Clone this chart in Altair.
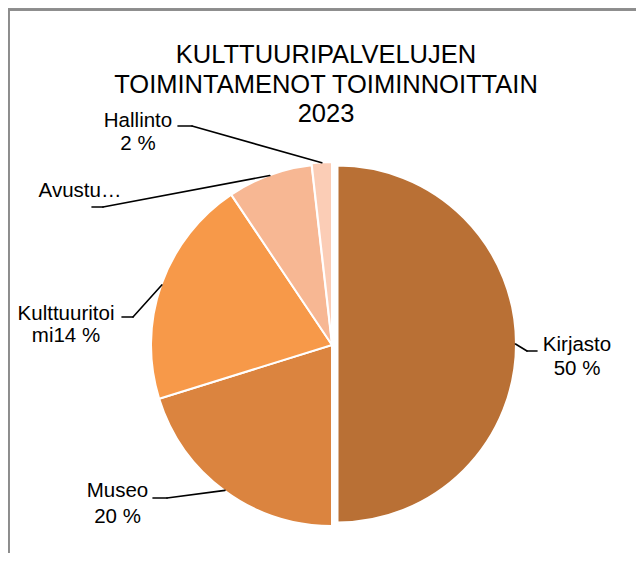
import math
import altair as alt
import pandas as pd

# ---- data ----
categories = ["Kirjasto", "Museo", "Kulttuuritoiminta", "Avustukset", "Hallinto"]
values = [50.0, 20.2, 20.4, 7.6, 1.8]
label_texts = ["Kirjasto\n50 %", "Museo\n20 %", "Kulttuuritoi\nmi14 %", "Avustu…", "Hallinto\n2 %"]
colors = ["#B97035", "#DB843F", "#F79949", "#F7B793", "#FBCDB6"]
title_text = "KULTTUURIPALVELUJEN\nTOIMINTAMENOT TOIMINNOITTAIN\n2023"

df = pd.DataFrame({
    "cat": categories,
    "value": values,
    "label": label_texts,
    "order": list(range(len(categories))),
})

# ---- layout (pixels, chart coordinates) ----
W, H = 628, 545
CX, CY, R = 324, 337, 181
# explode offsets: dx, dy, outer radius
explode = {"Kirjasto": (5.5, -1, 178.5), "Hallinto": (0, -2, 181)}
# label anchor (x, baseline y, lineHeight)
label_pos = {
    "Kirjasto": (569, 342.5, 24.5),
    "Museo": (109.5, 489, 26),
    "Kulttuuritoiminta": (58, 312, 22),
    "Avustukset": (72, 189, 22),
    "Hallinto": (130, 119, 23),
}
# leader lines: horizontal start x, elbow x, elbow y
leader = {
    "Kirjasto": (529, 519, 343),
    "Museo": (145, 159, 490),
    "Kulttuuritoiminta": (114, 125, 309),
    "Avustukset": (84, 95, 199),
    "Hallinto": (170, 184, 118),
}

FONT = "Liberation Sans"

base = (
    alt.Chart(df)
    .transform_joinaggregate(total="sum(value)")
    .transform_window(cum="sum(value)", sort=[alt.SortField("order")], frame=[None, 0])
    .transform_calculate(
        f0="(datum.cum - datum.value) / datum.total",
        f1="datum.cum / datum.total",
        ang="(datum.cum - datum.value / 2) / datum.total * 2 * PI",
    )
)

color_scale = alt.Scale(domain=categories, range=colors)
theta_scale = alt.Scale(domain=[0, 1], range=[0, 2 * math.pi])

layers = []

# border (top + left)
layers.append(
    alt.Chart(df).mark_rule(color="#8C8C8C", strokeWidth=2).encode(
        x=alt.value(0), x2=alt.value(W), y=alt.value(1.5)
    )
)
layers.append(
    alt.Chart(df).mark_rule(color="#8C8C8C", strokeWidth=1.5).encode(
        x=alt.value(0.75), y=alt.value(1.5), y2=alt.value(H)
    )
)

# slices
for c in categories:
    dx, dy, r = explode.get(c, (0, 0, R))
    layers.append(
        base.transform_filter(alt.datum.cat == c)
        .mark_arc(outerRadius=r, stroke="white", strokeWidth=2)
        .encode(
            theta=alt.Theta("f0:Q", scale=theta_scale),
            theta2=alt.Theta2("f1:Q"),
            color=alt.Color("cat:N", scale=color_scale, legend=None),
            x=alt.value(CX + dx),
            y=alt.value(CY + dy),
        )
    )

# leader lines
for c in categories:
    dx, dy, r = explode.get(c, (0, 0, R))
    rr = r - 0.5
    hx, ex, ey = leader[c]
    layers.append(
        base.transform_filter(alt.datum.cat == c)
        .transform_calculate(
            px=f"{CX + dx} + {rr} * sin(datum.ang)",
            py=f"{CY + dy} - {rr} * cos(datum.ang)",
        )
        .mark_rule(color="black", strokeWidth=1.6, strokeCap="round")
        .encode(
            x=alt.X("px:Q", scale=None, axis=None),
            y=alt.Y("py:Q", scale=None, axis=None),
            x2=alt.value(ex),
            y2=alt.value(ey),
        )
    )
    layers.append(
        alt.Chart(df).transform_filter(alt.datum.cat == c)
        .mark_rule(color="black", strokeWidth=1.6, strokeCap="round")
        .encode(x=alt.value(hx), x2=alt.value(ex), y=alt.value(ey))
    )

# labels
for c in categories:
    lx, ly, lh = label_pos[c]
    layers.append(
        alt.Chart(df).transform_filter(alt.datum.cat == c)
        .mark_text(font=FONT, fontSize=20.5, color="#000000", align="center",
                   baseline="alphabetic", lineBreak="\n", lineHeight=lh)
        .encode(text="label:N", x=alt.value(lx), y=alt.value(ly))
    )

# title
layers.append(
    alt.Chart(pd.DataFrame({"t": [title_text]}))
    .mark_text(font=FONT, fontSize=25.5, color="#000000", align="center",
               baseline="alphabetic", lineBreak="\n", lineHeight=29.5)
    .encode(text="t:N", x=alt.value(318), y=alt.value(55))
)

chart = (
    alt.layer(*layers)
    .properties(width=W, height=H, autosize="none", padding=0, background="white")
    .configure_view(strokeWidth=0)
)

chart.save("out.html", embed_options={"renderer": "svg", "actions": False})
